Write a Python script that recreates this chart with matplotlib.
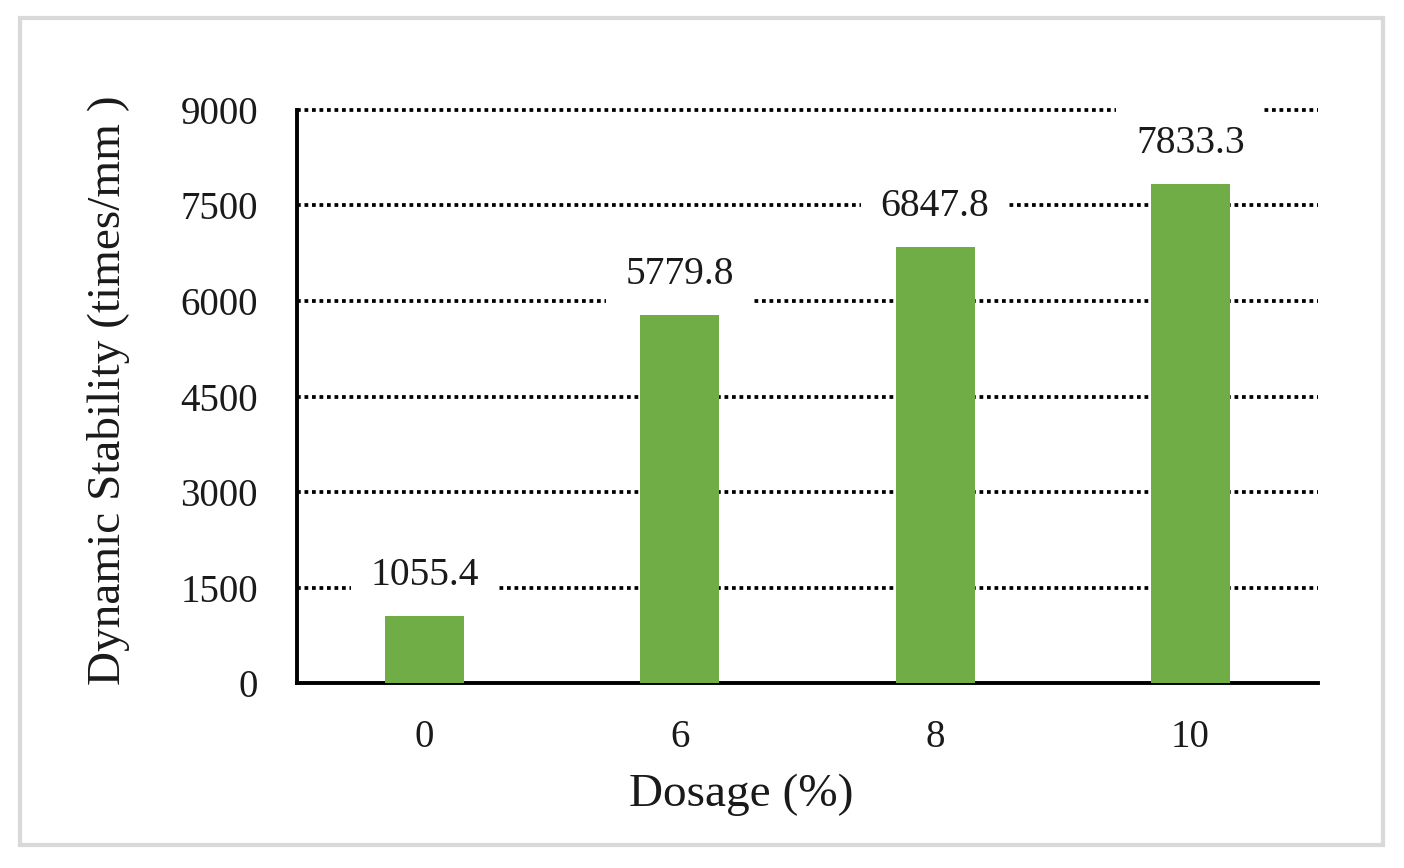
import matplotlib.pyplot as plt
from matplotlib.patches import Rectangle

plt.rcParams['font.family'] = ['Liberation Serif', 'DejaVu Serif']

# data
dosage = ['0', '6', '8', '10']
stability = [1055.4, 5779.8, 6847.8, 7833.3]
yticks = [0, 1500, 3000, 4500, 6000, 7500, 9000]

fig = plt.figure(figsize=(14.04, 8.68), dpi=100)
# light grey frame round the whole picture
fig.patches.append(Rectangle((0.0143, 0.0265), 0.9708, 0.9528, transform=fig.transFigure,
                             fill=False, edgecolor='#d9d9d9', linewidth=3))

ax = fig.add_axes([0.2115, 0.2131, 0.7272, 0.6602])
x = range(len(dosage))
ax.bar(x, stability, width=0.31, color='#70ad47', zorder=3)

for xi, v in zip(x, stability):
    ax.annotate(f'{v:.1f}', (xi, v), xytext=(0, 29), textcoords='offset points',
                ha='center', va='center', fontsize=28.5, color='#1a1a1a', zorder=4,
                bbox=dict(boxstyle='square,pad=0.5', fc='white', ec='none'))

ax.set_xlim(-0.5, 3.5)
ax.set_ylim(0, 9000)
ax.set_xticks(list(x))
ax.set_xticklabels(dosage)
ax.set_yticks(yticks)
ax.tick_params(length=0, labelsize=28, pad=26, colors='#1a1a1a')
ax.tick_params(axis='y', pad=28)

# dotted gridlines
for t in yticks[1:]:
    ax.axhline(t, color='black', linewidth=2.7, dashes=(1, 1), zorder=1, clip_on=False)

for s in ['top', 'right']:
    ax.spines[s].set_visible(False)
ax.spines['left'].set_linewidth(2.8)
ax.spines['bottom'].set_linewidth(2.8)

ax.set_xlabel('Dosage (%)', fontsize=34, color='#1a1a1a')
ax.xaxis.set_label_coords(0.435, -0.195)
ax.xaxis.label.set_va('center')
ax.set_ylabel('Dynamic Stability (times/mm )', fontsize=34, color='#1a1a1a')
ax.yaxis.set_label_coords(-0.185, 0.511)
ax.yaxis.label.set_va('center')

fig.savefig('out.png', dpi=100)
